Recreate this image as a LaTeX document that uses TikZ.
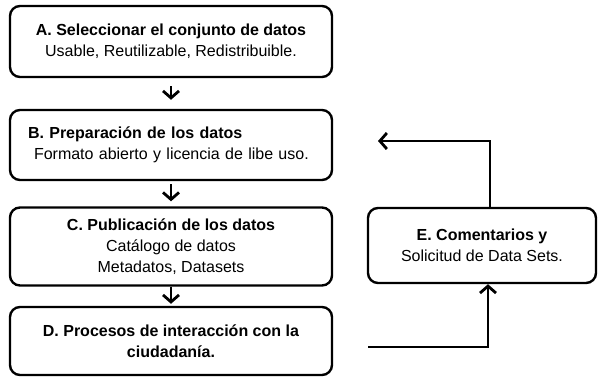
\documentclass[tikz,border=0pt]{standalone}
\usepackage{fontspec}
\setmainfont{Liberation Sans}
\usetikzlibrary{arrows.meta, positioning, calc}
\tikzset{
  paso/.style={draw, line width=2.4pt, rounded corners=10pt, minimum width=322pt, inner sep=0pt, align=center, font=\fontsize{16}{21}\selectfont},
  flecha/.style={line width=2.8pt, -{Straight Barb[length=7pt,width=16pt]}},
}

\begin{document}
\begin{tikzpicture}[x=1pt,y=-1pt]
\useasboundingbox (0,0) rectangle (598,377);
\node[paso, minimum height=71pt] (A) at (171,41.5) {\textbf{A. Seleccionar el conjunto de datos}\\Usable, Reutilizable, Redistribuible.};
\node[paso, minimum height=70pt, align=left, text width=286pt, inner xsep=18pt] (B) at (171,145) {\textbf{B. Preparación de los datos}\\\hspace*{6pt}Formato abierto y licencia de libe uso.};
\node[paso, minimum height=78pt] (C) at (171,246.5) {\textbf{C. Publicación de los datos}\\Catálogo de datos\\Metadatos, Datasets};
\node[paso, minimum height=68pt] (D) at (171,341) {\textbf{D. Procesos de interacción con la}\\\textbf{ciudadanía.}};
\node[paso, minimum width=228pt, minimum height=75pt] (E) at (482,245.5) {\textbf{E. Comentarios y}\\Solicitud de Data Sets.};
\coordinate (dfin) at (368,347);
\coordinate (bfin) at (378,141);
\draw[flecha, shorten <=8pt, shorten >=9pt] (A.south) -- (B.north);
\draw[flecha, shorten <=3pt, shorten >=5pt] (B.south) -- (C.north);
\draw[flecha, shorten >=2pt] (C.south) -- (D.north);
\draw[flecha] (dfin) -| ([xshift=6pt]E.south);
\draw[flecha] ([xshift=8pt]E.north) |- (bfin);
\end{tikzpicture}
\end{document}
